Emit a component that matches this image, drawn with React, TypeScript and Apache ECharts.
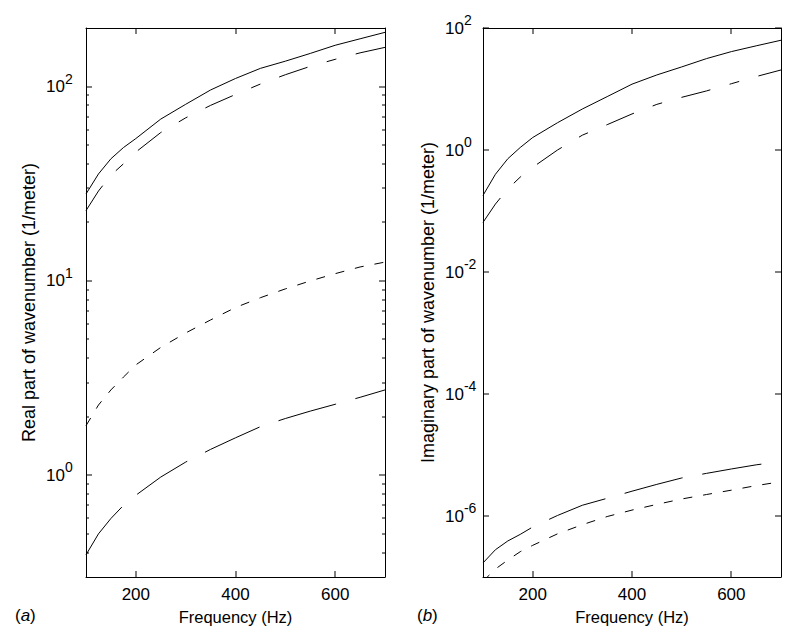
import React, { useEffect, useRef } from 'react';
import * as echarts from 'echarts';

// Frequency grid (Hz)
const freq = [100, 125, 150, 175, 200, 250, 300, 350, 400, 450, 500, 550, 600, 650, 700];

// (a) Real part of wavenumber (1/meter)
const realSolid = [28, 35.5, 42.5, 48.5, 54, 68, 81, 96, 110, 124, 135, 148, 163, 176, 190];
const realDashDot = [23, 29, 35, 40, 46, 58, 69, 80, 91, 103, 115, 127, 138, 149, 159];
const realShortDash = [1.8, 2.3, 2.75, 3.2, 3.7, 4.55, 5.4, 6.3, 7.3, 8.2, 9.1, 10.0, 10.9, 11.8, 12.5];
const realLongDash = [0.39, 0.5, 0.6, 0.7, 0.79, 0.98, 1.17, 1.36, 1.56, 1.78, 1.96, 2.14, 2.32, 2.52, 2.75];

// (b) Imaginary part of wavenumber (1/meter)
const imagSolid = [0.18, 0.4, 0.72, 1.1, 1.6, 2.8, 4.7, 7.5, 12, 17, 23, 31.5, 41, 51, 63];
const imagDashDot = [0.065, 0.13, 0.23, 0.36, 0.52, 1.0, 1.75, 2.6, 3.9, 5.6, 7.3, 9.3, 12.2, 16, 20.5];
const imagLongDash = [1.7e-7, 2.8e-7, 3.9e-7, 5.0e-7, 6.6e-7, 1.02e-6, 1.5e-6, 1.95e-6, 2.55e-6, 3.3e-6, 4.2e-6, 5.0e-6, 5.9e-6, 6.9e-6, 7.8e-6];
const imagShortDash = [0.85e-7, 1.35e-7, 1.9e-7, 2.6e-7, 3.3e-7, 5.1e-7, 7.2e-7, 9.8e-7, 1.25e-6, 1.55e-6, 1.9e-6, 2.25e-6, 2.65e-6, 3.15e-6, 3.65e-6];

// Axis ranges and ticks
const X_MIN = 100;
const X_MAX = 700;
const xTickLabels = [200, 400, 600];
const REAL_MIN = 0.3;
const REAL_MAX = 200;
const IMAG_MIN = 1e-7;
const IMAG_MAX = 100;
const realMajorTicks = [1, 10, 100];
const realMinorTicks = [0.4, 0.5, 0.6, 0.7, 0.8, 0.9, 2, 3, 4, 5, 6, 7, 8, 9, 20, 30, 40, 50, 60, 70, 80, 90];
const imagMajorTicks = [1e-6, 1e-4, 1e-2, 1, 100];

const FONT = '"Liberation Sans", Arial, Helvetica, sans-serif';

const pairs = (ys: number[]) => freq.map((f, i) => [f, ys[i]]);

const powLabel = (step: number) => (v: number) => {
  const e = Math.log10(v);
  const r = Math.round(e);
  if (Math.abs(e - r) > 1e-6 || r % step !== 0) return '';
  return `{b|10}{s|${r}}`;
};

const labelRich = {
  b: { fontSize: 17, fontFamily: FONT, color: '#000' },
  s: { fontSize: 14, fontFamily: FONT, color: '#000', padding: [0, 0, 16, 0] },
};

const axisLineStyle = { show: true, onZero: false, lineStyle: { color: '#000', width: 1 } };

function xAxes(grid: number) {
  return [
    {
      type: 'value', gridIndex: grid, position: 'bottom', min: X_MIN, max: X_MAX, splitNumber: 3,
      axisLine: axisLineStyle,
      axisTick: { show: false },
      axisLabel: {
        show: true, margin: 9, fontSize: 17, fontFamily: FONT, color: '#000',
        formatter: (v: number) => (xTickLabels.includes(v) ? String(v) : ''),
      },
      splitLine: { show: false },
      name: 'Frequency (Hz)',
      nameLocation: 'middle', nameGap: 31,
      nameTextStyle: { fontSize: 16.5, fontFamily: FONT, color: '#000' },
    },
    {
      type: 'value', gridIndex: grid, position: 'top', min: X_MIN, max: X_MAX, splitNumber: 3,
      axisLine: axisLineStyle,
      axisTick: { show: false },
      axisLabel: { show: false },
      splitLine: { show: false },
    },
  ];
}

// One inward tick per data item, drawn as a small filled rect.
// edge: 'left' | 'right' | 'bottom' | 'top'
function tickSeries(xIdx: number, yIdx: number, points: number[][], edge: string, len: number) {
  return {
    type: 'custom',
    xAxisIndex: xIdx,
    yAxisIndex: yIdx,
    silent: true,
    clip: false,
    z: 10,
    zlevel: 1,
    data: points,
    renderItem: (_params: any, api: any) => {
      const p = api.coord([api.value(0), api.value(1)]);
      const x = Math.round(p[0]);
      const y = Math.round(p[1]);
      let shape;
      if (edge === 'left') shape = { x: x, y: y - 0.5, width: len, height: 1 };
      else if (edge === 'right') shape = { x: x - len, y: y - 0.5, width: len, height: 1 };
      else if (edge === 'bottom') shape = { x: x - 0.5, y: y - len, width: 1, height: len };
      else shape = { x: x - 0.5, y: y, width: 1, height: len };
      return { type: 'rect', shape, style: { fill: '#000' } };
    },
  };
}

function frameTicks(xIdx: number, yIdx: number, yMin: number, yMax: number, major: number[], minor: number[]) {
  const out: any[] = [];
  out.push(tickSeries(xIdx, yIdx, major.map((v) => [X_MIN, v]), 'left', 6));
  out.push(tickSeries(xIdx, yIdx, major.map((v) => [X_MAX, v]), 'right', 6));
  if (minor.length) {
    out.push(tickSeries(xIdx, yIdx, minor.map((v) => [X_MIN, v]), 'left', 3));
    out.push(tickSeries(xIdx, yIdx, minor.map((v) => [X_MAX, v]), 'right', 3));
  }
  out.push(tickSeries(xIdx, yIdx, xTickLabels.map((v) => [v, yMin]), 'bottom', 6));
  out.push(tickSeries(xIdx, yIdx, xTickLabels.map((v) => [v, yMax]), 'top', 6));
  return out;
}

function lineSeries(xIdx: number, yIdx: number, ys: number[], type: any) {
  return {
    type: 'line',
    xAxisIndex: xIdx,
    yAxisIndex: yIdx,
    data: pairs(ys),
    showSymbol: false,
    symbol: 'none',
    smooth: false,
    clip: true,
    lineStyle: { color: '#000', width: 1, type },
    z: 3,
  };
}

const DASH_DOT = [30, 20, 10, 20];
const LONG_DASH = [60, 20];
const SHORT_DASH = [9, 11];

export default function App() {
  const ref = useRef<HTMLDivElement>(null);

  useEffect(() => {
    if (!ref.current) return;
    const chart = echarts.init(ref.current, undefined, { renderer: 'svg' });
    const option: any = {
      animation: false,
      backgroundColor: '#fff',
      grid: [
        { left: 86, top: 28, width: 299, height: 549 },
        { left: 483, top: 28, width: 298, height: 549 },
      ],
      xAxis: [...xAxes(0), ...xAxes(1)],
      yAxis: [
        {
          type: 'log', gridIndex: 0, position: 'left', min: REAL_MIN, max: REAL_MAX, logBase: 10,
          axisLine: axisLineStyle,
          axisTick: { show: false },
          axisLabel: { show: true, align: 'left', margin: 40, formatter: powLabel(1), rich: labelRich },
          splitLine: { show: false },
          name: 'Real part of wavenumber (1/meter)',
          nameLocation: 'middle', nameGap: 48, nameRotate: 90,
          nameTextStyle: { fontSize: 18, fontFamily: FONT, color: '#000' },
        },
        {
          type: 'log', gridIndex: 0, position: 'right', min: REAL_MIN, max: REAL_MAX, logBase: 10,
          axisLine: axisLineStyle,
          axisTick: { show: false },
          axisLabel: { show: false },
          splitLine: { show: false },
        },
        {
          type: 'log', gridIndex: 1, position: 'left', min: IMAG_MIN, max: IMAG_MAX, logBase: 10,
          axisLine: axisLineStyle,
          axisTick: { show: false },
          axisLabel: { show: true, align: 'left', margin: 38, formatter: powLabel(2), rich: labelRich },
          splitLine: { show: false },
          name: 'Imaginary part of wavenumber (1/meter)',
          nameLocation: 'middle', nameGap: 46, nameRotate: 90,
          nameTextStyle: { fontSize: 18, fontFamily: FONT, color: '#000' },
        },
        {
          type: 'log', gridIndex: 1, position: 'right', min: IMAG_MIN, max: IMAG_MAX, logBase: 10,
          axisLine: axisLineStyle,
          axisTick: { show: false },
          axisLabel: { show: false },
          splitLine: { show: false },
        },
      ],
      series: [
        lineSeries(0, 0, realSolid, 'solid'),
        lineSeries(0, 0, realDashDot, DASH_DOT),
        lineSeries(0, 0, realShortDash, SHORT_DASH),
        lineSeries(0, 0, realLongDash, LONG_DASH),
        lineSeries(2, 2, imagSolid, 'solid'),
        lineSeries(2, 2, imagDashDot, DASH_DOT),
        lineSeries(2, 2, imagLongDash, LONG_DASH),
        lineSeries(2, 2, imagShortDash, SHORT_DASH),
        ...frameTicks(0, 0, REAL_MIN, REAL_MAX, realMajorTicks, realMinorTicks),
        ...frameTicks(2, 2, IMAG_MIN, IMAG_MAX, imagMajorTicks, []),
      ],
      graphic: [
        {
          type: 'text', left: 15, top: 607,
          style: { text: '({i|a})', fontSize: 17, fontFamily: FONT, fill: '#000', rich: { i: { fontStyle: 'italic', fontSize: 17, fontFamily: FONT } } },
        },
        {
          type: 'text', left: 417, top: 607,
          style: { text: '({i|b})', fontSize: 17, fontFamily: FONT, fill: '#000', rich: { i: { fontStyle: 'italic', fontSize: 17, fontFamily: FONT } } },
        },
      ],
    };
    chart.setOption(option);
    return () => chart.dispose();
  }, []);

  return (
    <div
      ref={ref}
      style={{ position: 'absolute', left: 0, top: 0, width: 800, height: 643, background: '#fff' }}
    />
  );
}
